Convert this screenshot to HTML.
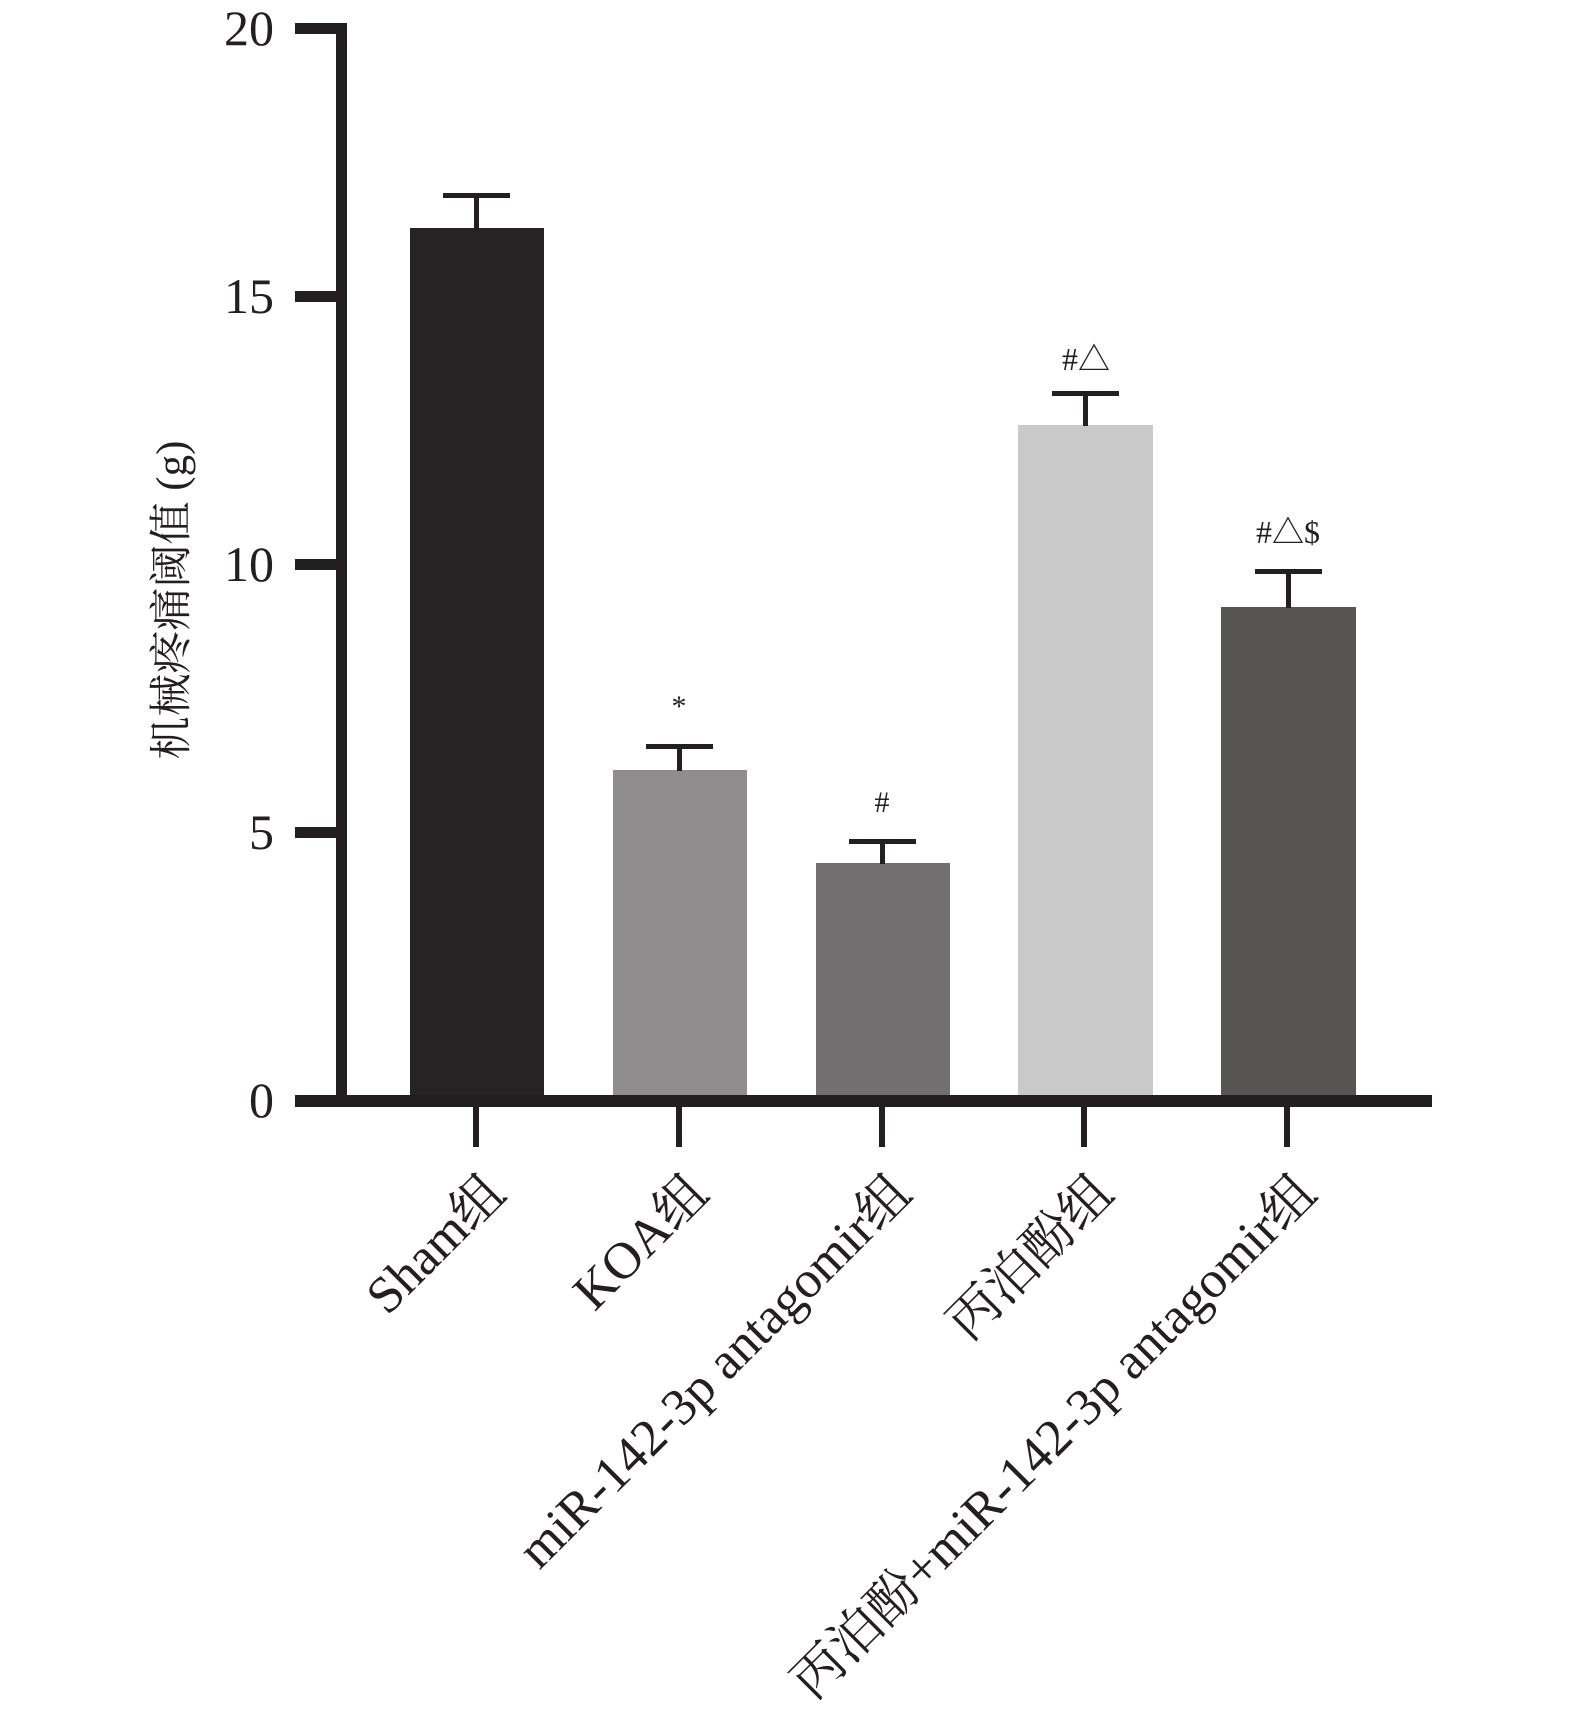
<!DOCTYPE html>
<html><head><meta charset="utf-8"><style>
html,body{margin:0;padding:0;background:#fff;}
svg{display:block;}
text{font-family:"Liberation Serif","Noto Serif CJK SC",serif;fill:#231f20;}
</style></head><body>
<svg width="1575" height="1709" viewBox="0 0 1575 1709" xmlns="http://www.w3.org/2000/svg">
<rect x="410" y="228" width="134" height="873" fill="#262324"/>
<rect x="613" y="770" width="134" height="331" fill="#8f8d8e"/>
<rect x="816" y="863" width="134" height="238" fill="#716f70"/>
<rect x="1018" y="425" width="135" height="676" fill="#c9c9c9"/>
<rect x="1221" y="607" width="135" height="494" fill="#575553"/>
<g fill="#231f20">
<rect x="474" y="193" width="5" height="36"/><rect x="443" y="193" width="67" height="5"/>
<rect x="677" y="744" width="5" height="27"/><rect x="646" y="744" width="67" height="5"/>
<rect x="880" y="839" width="5" height="25"/><rect x="849" y="839" width="67" height="5"/>
<rect x="1083" y="391" width="5" height="35"/><rect x="1052" y="391" width="67" height="5"/>
<rect x="1286" y="569" width="5" height="39"/><rect x="1255" y="569" width="67" height="5"/>
</g>
<g fill="#231f20">
<rect x="336" y="23" width="11" height="1084"/>
<rect x="295" y="1095" width="1137" height="12"/>
<rect x="295" y="23" width="52" height="11"/>
<rect x="295" y="291" width="52" height="11"/>
<rect x="295" y="559" width="52" height="11"/>
<rect x="295" y="827" width="52" height="11"/>
<rect x="473" y="1101" width="6" height="46"/>
<rect x="676" y="1101" width="6" height="46"/>
<rect x="879" y="1101" width="6" height="46"/>
<rect x="1081" y="1101" width="6" height="46"/>
<rect x="1284" y="1101" width="6" height="46"/>
</g>
<g font-size="50" text-anchor="end">
<text x="274" y="45">20</text>
<text x="274" y="313">15</text>
<text x="274" y="581">10</text>
<text x="274" y="849">5</text>
<text x="274" y="1117">0</text>
</g>
<text transform="translate(186,600) rotate(-90)" font-size="43" text-anchor="middle">机械疼痛阈值 (g)</text>
<text x="679" y="716" font-size="30" text-anchor="middle">*</text>
<text x="882" y="812" font-size="30" text-anchor="middle">#</text>
<text x="1086" y="370" font-size="32" text-anchor="middle">#△</text>
<text x="1288" y="543" font-size="32" text-anchor="middle">#△$</text>
<g font-size="52" text-anchor="end">
<text transform="translate(508,1196) rotate(-45)">Sham组</text>
<text transform="translate(711,1196) rotate(-45)">KOA组</text>
<text transform="translate(914,1196) rotate(-45)">miR-142-3p antagomir组</text>
<text transform="translate(1116,1196) rotate(-45)">丙泊酚组</text>
<text transform="translate(1319,1196) rotate(-45)">丙泊酚+miR-142-3p antagomir组</text>
</g>
</svg>
</body></html>
